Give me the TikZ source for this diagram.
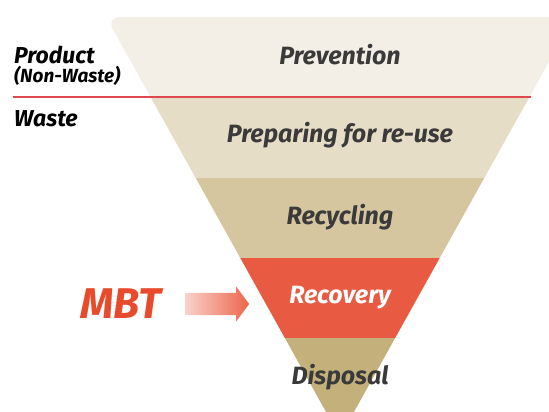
\documentclass[tikz,border=0pt]{standalone}
\usepackage{fontspec}
\setmainfont{Fira Sans}
\usetikzlibrary{shapes.arrows}

\definecolor{prevcol}{HTML}{F3EFE6}
\definecolor{prepcol}{HTML}{E6DDC6}
\definecolor{recycol}{HTML}{D5C6A0}
\definecolor{recocol}{HTML}{E95A42}
\definecolor{dispcol}{HTML}{C4B07A}
\definecolor{txtcol}{HTML}{3B3A3A}
\definecolor{mbtcol}{HTML}{E84A2C}
\definecolor{linecol}{HTML}{E04850}

\begin{document}
\begin{tikzpicture}[x=1pt,y=-1pt,
		level/.style={font=\bfseries\itshape\fontsize{25}{27}\selectfont,
			text=txtcol, inner sep=0pt},
		side/.style={anchor=west, inner sep=0pt, font=\bfseries\itshape}]

	\useasboundingbox (0,0) rectangle (549,412);

	% funnel bands, cut to the triangle
	\begin{scope}
		\clip (340,437) [rounded corners=14pt] -- (106,17) -- (574,17) [sharp corners] -- cycle;
		\fill[prevcol] (0,0)   rectangle (600,97);
		\fill[prepcol] (0,97)  rectangle (600,178);
		\fill[recycol] (0,178) rectangle (600,258);
		\fill[recocol] (0,258) rectangle (600,338);
		\fill[dispcol] (0,338) rectangle (600,440);
	\end{scope}

	\node[level] (Prev) at (340,55)  {Prevention};
	\node[level] (Prep) at (340,135) {Preparing for re-use};
	\node[level] (Recy) at (340,217) {Recycling};
	\node[level, text=white] (Reco) at (340,298) {Recovery};
	\node[level] (Disp) at (340,377) {Disposal};

	% product / waste split
	\coordinate (LineL) at (13,97);
	\coordinate (LineR) at (531,97);
	\draw[linecol, line width=2pt] (LineL) -- (LineR);

	\node[side, font=\bfseries\itshape\fontsize{23}{24}\selectfont] (Prod) at (14,55) {Product};
	\node[side, font=\bfseries\itshape\fontsize{19}{20}\selectfont] (NonW) at (14,76) {(Non-Waste)};
	\node[side, font=\bfseries\itshape\fontsize{23}{24}\selectfont] (Waste) at (14,119) {Waste};

	% MBT pointing into recovery
	\node[font=\bfseries\itshape\fontsize{43}{44}\selectfont, text=mbtcol, inner sep=0pt] (MBT) at (121,304) {MBT};
	\node[single arrow, inner xsep=0pt, inner ysep=11pt, minimum height=64pt,
		single arrow head extend=6.5pt, single arrow tip angle=107,
		left color=mbtcol!25, right color=mbtcol!85, draw=none] (Arrow) at (213,304) {};
\end{tikzpicture}
\end{document}
